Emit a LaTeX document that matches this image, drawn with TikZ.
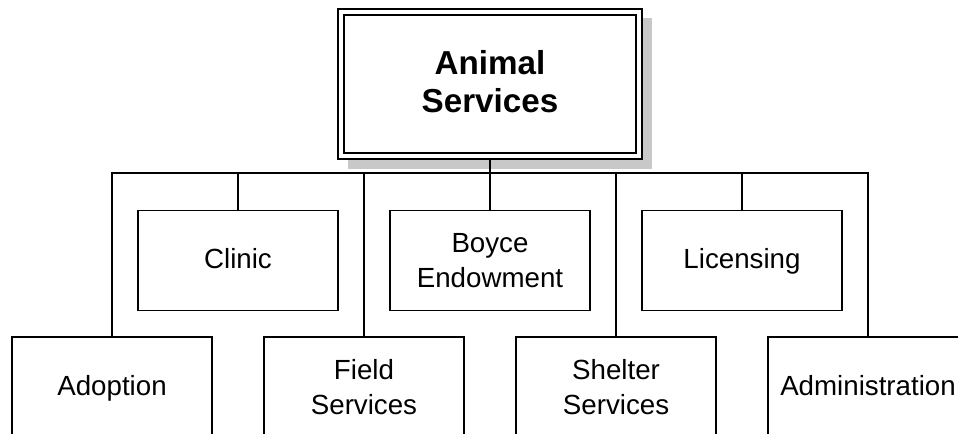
\documentclass[tikz,border=0pt]{standalone}
\usepackage{fontspec}
\setmainfont{Liberation Sans}
\usetikzlibrary{backgrounds}
\definecolor{shadowgray}{RGB}{200,200,200}
\begin{document}
\begin{tikzpicture}[x=1bp,y=-1bp,
  unit/.style={draw, line width=1.9bp, minimum width=200bp, minimum height=100bp,
    inner sep=0pt, align=center, font=\fontsize{27.7bp}{34.5bp}\selectfont},
  oneline/.style={unit, text height=21bp, text depth=5bp},
  head/.style={draw, line width=2bp, double, double distance=4bp, fill=white,
    minimum width=297.4bp, minimum height=144.8bp, outer sep=4bp, inner sep=0pt,
    align=center, text depth=5bp,
    font=\bfseries\fontsize{33.2bp}{38.3bp}\selectfont},
  link/.style={line width=1.9bp}]
\useasboundingbox (0,0) rectangle (958,434);
\clip (0,0) rectangle (958,434);

% department head
\node[head] (top) at (490,84.1) {Animal\\Services};

% middle row
\node[oneline] (clinic) at (238,260.5) {Clinic};
\node[unit]    (boyce)  at (490,260.5) {Boyce\\Endowment};
\node[oneline] (licen)  at (742,260.5) {Licensing};

% bottom row
\node[oneline] (adopt)   at (112,387) {Adoption};
\node[unit]    (field)   at (364,387) {Field\\Services};
\node[unit]    (shelter) at (616,387) {Shelter\\Services};
\node[oneline] (admin)   at (868,387) {Administration};

% drop shadow behind the head box
\begin{scope}[on background layer]
  \fill[shadowgray] ([shift={(10.5,10.3)}]top.north west) rectangle ([shift={(9.5,9)}]top.south east);
\end{scope}

% connectors
\coordinate (bus) at (490,173);
\draw[link] (top.south) -- (bus);
\draw[link] (adopt.north) |- (bus) -| (admin.north);
\foreach \n in {clinic,field,boyce,shelter,licen}
  \draw[link] (\n.north) -- (\n.north |- bus);
\end{tikzpicture}
\end{document}
